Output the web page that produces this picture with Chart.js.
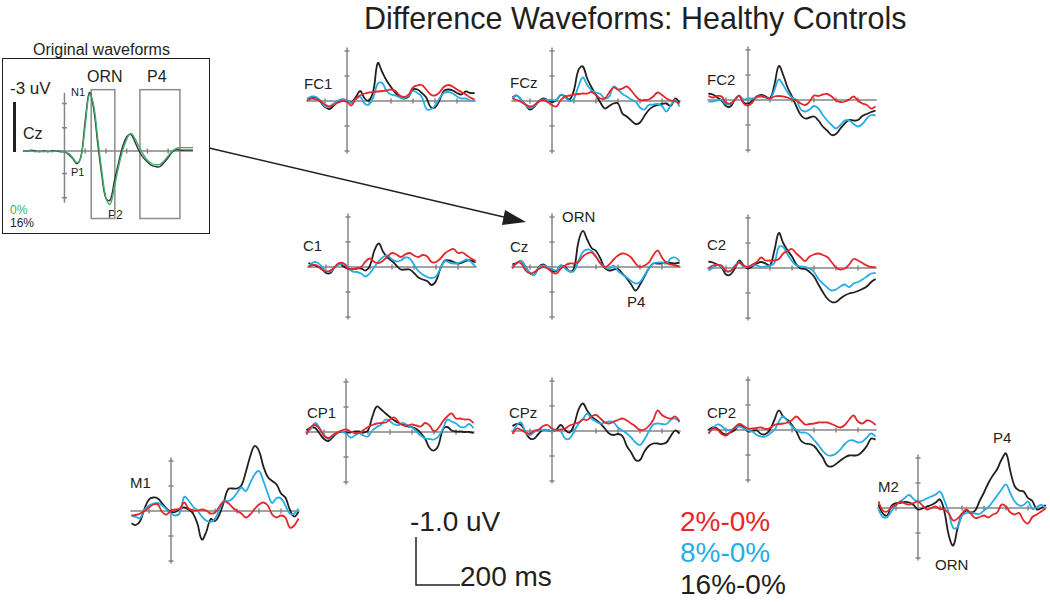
<!DOCTYPE html>
<html lang="en">
<head>
<meta charset="UTF-8">
<title>Difference Waveforms: Healthy Controls</title>
<script src="https://cdn.jsdelivr.net/npm/chart.js"></script>
<style>
    body { margin: 0; background: #fff; }
    #page { position: relative; width: 1050px; height: 602px; overflow: hidden; font-family: "Liberation Sans", Arial, sans-serif; color: #231f20; }
    #page canvas { position: absolute; }
    .t { position: absolute; white-space: nowrap; line-height: 1; }
    #inset { position: absolute; left: 2px; top: 58px; width: 206px; height: 174px; border: 1.5px solid #231f20; }
    svg { position: absolute; left: 0; top: 0; }
</style>
</head>
<body>
<div id="page">
    <div class="t" style="left:364px;top:3px;font-size:30.5px;">Difference Waveforms: Healthy Controls</div>
    <div class="t" style="left:33px;top:42px;font-size:16px;">Original waveforms</div>
    <div id="inset"></div>
    <div class="t" style="left:10px;top:80px;font-size:17px;">-3 uV</div>
    <div style="position:absolute;left:13px;top:102px;width:3px;height:50px;background:#231f20;"></div>
    <div class="t" style="left:23px;top:126px;font-size:16px;">Cz</div>
    <div class="t" style="left:87px;top:69px;font-size:16px;">ORN</div>
    <div class="t" style="left:147px;top:69px;font-size:16px;">P4</div>
    <div class="t" style="left:71px;top:87px;font-size:11px;">N1</div>
    <div class="t" style="left:71px;top:167px;font-size:11px;">P1</div>
    <div class="t" style="left:108px;top:209px;font-size:12px;">P2</div>
    <div class="t" style="left:10px;top:204px;font-size:12px;color:#3cae6a;">0%</div>
    <div class="t" style="left:10px;top:217px;font-size:12px;">16%</div>

    <div id="labels"></div>

    <div class="t" style="left:410px;top:508px;font-size:28px;">-1.0 uV</div>
    <div class="t" style="left:460px;top:563px;font-size:28px;">200 ms</div>
    <div class="t" style="left:680px;top:508px;font-size:28px;color:#e5262b;">2%-0%</div>
    <div class="t" style="left:680px;top:539px;font-size:28px;color:#25aee6;">8%-0%</div>
    <div class="t" style="left:680px;top:571px;font-size:28px;">16%-0%</div>

    <svg width="1050" height="602">
        <line x1="209" y1="148" x2="508" y2="218" stroke="#231f20" stroke-width="1.5"/>
        <polygon points="526,222 505,210 502,225" fill="#231f20"/>
        <polyline points="416,537 416,585 460,585" fill="none" stroke="#231f20" stroke-width="1.5"/>
    </svg>
</div>
<script>
// time points of the difference waveforms (ms)
const times = [-180,-160,-140,-120,-100,-80,-60,-40,-20,0,20,40,60,80,100,120,140,160,180,200,
               220,240,260,280,300,320,340,360,380,400,420,440,460,480,500,520,540,560,580];

// values in uV, negative is drawn upwards
const fc1Red   = [-0.01,-0.05,-0.03,0,0.07,0.11,0.08,0.03,0,0.02,0.09,-0.05,-0.11,-0.15,-0.17,-0.18,-0.19,-0.2,-0.21,-0.23,-0.2,-0.11,-0.08,-0.13,-0.27,-0.31,-0.32,-0.23,-0.13,-0.11,-0.17,-0.28,-0.32,-0.29,-0.23,-0.18,-0.13,-0.07,-0.03];
const fc1Blue  = [-0.05,-0.09,-0.08,-0.01,0.11,0.11,0.05,-0.01,-0.03,-0.01,0.04,-0.03,-0.08,0.05,0.07,-0.08,-0.35,-0.36,-0.2,-0.13,-0.11,-0.07,-0.05,-0.11,-0.2,-0.16,-0.08,0.15,0.17,0.09,-0.05,-0.16,-0.18,-0.15,-0.09,-0.05,-0.05,-0.01,0];
const fc1Black = [-0.03,-0.07,-0.07,0.02,0.12,0.16,0.09,0,-0.03,-0.01,0.03,-0.08,-0.2,-0.05,-0.01,-0.21,-0.76,-0.58,-0.41,-0.28,-0.16,-0.08,-0.05,-0.09,-0.23,-0.23,-0.16,-0.07,0.12,0.13,-0.01,-0.2,-0.23,-0.21,-0.16,-0.13,-0.19,-0.16,-0.16];

const fczRed   = [-0.05,-0.02,0.02,0.07,0.11,0.08,0.01,-0.02,0.02,0.08,0.11,-0.02,-0.09,-0.11,-0.13,-0.14,-0.15,-0.15,-0.18,-0.12,-0.05,-0.05,-0.17,-0.27,-0.23,-0.25,-0.29,-0.21,-0.1,-0.02,-0.02,-0.03,-0.09,-0.17,-0.12,-0.05,-0.01,0.01,0.05];
const fczBlue  = [-0.05,-0.11,-0.02,0.08,0.14,0.1,0.01,-0.03,-0.02,-0.02,-0.02,-0.13,-0.07,0,-0.05,-0.29,-0.47,-0.32,-0.21,-0.17,-0.14,-0.05,-0.09,-0.29,-0.23,-0.14,-0.09,-0.03,0.01,0.13,0.17,0.08,0.07,0.06,0.1,0.21,0.08,-0.02,0.11];
const fczBlack = [-0.07,-0.11,-0.02,0.08,0.17,0.11,0.01,-0.05,-0.02,0.02,-0.02,-0.12,-0.09,-0.03,-0.22,-0.62,-0.69,-0.45,-0.27,-0.12,0.03,0.15,0.1,0.05,0.05,0.25,0.31,0.39,0.46,0.43,0.3,0.18,0.11,0.08,0.06,0.05,0.1,-0.05,0.03];

const fc2Red   = [-0.08,-0.05,-0.08,-0.07,0.05,0.07,0,-0.09,0.07,0.11,0.05,-0.07,-0.08,-0.05,-0.03,-0.07,-0.08,-0.07,-0.05,-0.01,0.01,0.07,0.1,0.03,-0.09,-0.08,-0.11,-0.12,-0.07,0.01,0.04,0.03,-0.01,-0.07,0.01,0.07,0.1,0.17,0.13];
const fc2Blue  = [0.03,0.03,0.01,0,0.08,0.08,0,-0.08,-0.01,-0.03,-0.03,-0.05,-0.07,-0.05,-0.01,-0.2,-0.41,-0.3,-0.15,-0.05,0,0.19,0.23,0.19,0.12,0.17,0.3,0.41,0.5,0.57,0.5,0.41,0.41,0.48,0.53,0.48,0.37,0.3,0.31];
const fc2Black = [-0.13,-0.11,-0.05,0.01,0.12,0.13,0,-0.08,0.05,0.07,0.01,-0.07,-0.1,-0.07,-0.03,-0.3,-0.68,-0.5,-0.25,-0.07,0.13,0.3,0.37,0.35,0.33,0.41,0.53,0.61,0.7,0.68,0.57,0.47,0.4,0.41,0.4,0.32,0.28,0.24,0.21];

const c1Red    = [0,-0.04,-0.03,0.05,0.09,0.07,0,-0.08,-0.07,0.03,0.04,0.03,0,-0.11,-0.17,-0.1,-0.08,-0.13,-0.21,-0.28,-0.25,-0.2,-0.25,-0.28,-0.23,-0.2,-0.24,-0.21,-0.1,-0.1,-0.17,-0.27,-0.33,-0.36,-0.28,-0.29,-0.23,-0.17,-0.12];
const c1Blue   = [0,-0.09,-0.09,-0.01,0.08,0.09,0,-0.05,-0.07,0,0.09,0.1,0.13,0.19,0.12,0,-0.12,-0.2,-0.23,-0.15,-0.11,-0.13,-0.19,-0.17,-0.05,0.08,0.15,0.2,0.22,0.19,0.03,-0.12,-0.09,-0.07,-0.08,-0.11,-0.15,-0.1,0];
const c1Black  = [-0.08,-0.05,-0.01,0.03,0.12,0.12,0,-0.07,-0.01,0.04,0.05,0.03,0.03,0.07,-0.03,-0.33,-0.47,-0.3,-0.19,-0.12,-0.03,0.05,0.05,0.05,0.12,0.21,0.25,0.28,0.36,0.28,0.03,-0.13,-0.13,-0.1,-0.07,-0.09,-0.13,-0.13,-0.09];

const czRed    = [0.03,-0.09,-0.07,0.07,0.13,0.1,0.04,0,0.03,0.1,0.13,0.03,-0.03,-0.07,-0.07,-0.1,-0.21,-0.27,-0.29,-0.2,-0.07,0,-0.05,-0.15,-0.23,-0.27,-0.25,-0.19,-0.07,0,-0.03,-0.09,-0.23,-0.33,-0.19,-0.08,-0.05,-0.03,-0.01];
const czBlue   = [-0.01,-0.07,-0.12,0,0.12,0.15,0.01,-0.03,0,0.04,0.07,-0.03,0.03,0.09,0.08,-0.12,-0.3,-0.35,-0.32,-0.21,-0.08,0,0.03,-0.03,0.08,0.15,0.21,0.28,0.33,0.3,0.17,0.03,-0.07,-0.09,-0.09,-0.07,-0.17,-0.19,-0.12];
const czBlack  = [-0.05,-0.08,-0.12,0,0.12,0.15,0,-0.05,0.01,0.08,0.08,-0.03,0,0.09,0.03,-0.5,-0.72,-0.55,-0.38,-0.32,-0.17,0.02,0.07,0.05,0.04,0.13,0.23,0.35,0.47,0.35,0.19,0.03,-0.07,-0.07,-0.07,-0.09,-0.08,-0.07,-0.09];

const c2Red    = [0.01,-0.05,-0.06,-0.05,0.06,0.06,-0.02,-0.11,-0.05,-0.02,-0.07,-0.12,-0.21,-0.15,-0.15,-0.15,-0.18,-0.29,-0.34,-0.38,-0.29,-0.21,-0.14,-0.23,-0.27,-0.29,-0.26,-0.22,-0.12,-0.01,0.03,0.01,-0.07,-0.18,-0.15,-0.1,-0.05,-0.02,-0.02];
const c2Blue   = [0.05,0,-0.06,-0.02,0.06,0.06,-0.05,-0.11,-0.02,-0.03,-0.05,-0.05,-0.02,-0.03,-0.05,-0.1,-0.42,-0.42,-0.27,-0.14,-0.05,-0.03,-0.02,0.01,0.08,0.22,0.31,0.39,0.45,0.43,0.37,0.33,0.38,0.31,0.28,0.23,0.17,0.11,0.1];
const c2Black  = [-0.13,-0.11,-0.07,-0.01,0.13,0.13,0.01,-0.15,-0.05,0.01,-0.03,-0.09,-0.12,-0.09,-0.05,-0.35,-0.7,-0.5,-0.35,-0.23,-0.07,0.01,0.02,0.08,0.17,0.33,0.48,0.61,0.68,0.68,0.61,0.55,0.51,0.49,0.46,0.42,0.37,0.28,0.22];

const cp1Red   = [0.05,-0.1,-0.14,-0.06,0.07,0.12,0.06,0.01,-0.03,-0.05,-0.01,0.02,0.02,-0.04,-0.1,-0.14,-0.17,-0.18,-0.19,-0.25,-0.29,-0.19,-0.13,-0.13,-0.15,-0.13,-0.11,-0.18,-0.13,-0.01,-0.08,-0.21,-0.31,-0.37,-0.27,-0.27,-0.25,-0.25,-0.18];
const cp1Blue  = [0.02,-0.06,-0.18,-0.08,0.07,0.14,0.07,0.01,-0.01,0.03,0.11,0.07,0.02,0.07,0.09,-0.03,-0.1,-0.15,-0.25,-0.21,-0.15,-0.14,-0.18,-0.13,-0.09,-0.01,0.07,0.13,0.14,0.15,0.09,-0.06,-0.25,-0.21,-0.17,-0.1,-0.1,-0.16,-0.08];
const cp1Black = [-0.03,-0.09,-0.08,0.03,0.14,0.18,0.1,0.02,-0.01,0.01,0.01,-0.01,-0.01,0.01,-0.03,-0.31,-0.51,-0.45,-0.37,-0.3,-0.23,-0.18,-0.15,-0.11,-0.1,-0.06,0.02,0.14,0.32,0.37,0.27,-0.05,-0.1,-0.03,-0.01,-0.01,0,0,0.02];

const cpzRed   = [0.06,-0.05,-0.02,0.03,0.05,-0.01,-0.03,-0.1,-0.12,-0.05,-0.02,-0.03,-0.05,-0.11,-0.14,-0.17,-0.23,-0.22,-0.29,-0.32,-0.25,-0.17,-0.15,-0.19,-0.22,-0.25,-0.21,-0.15,-0.09,-0.02,-0.03,-0.1,-0.22,-0.41,-0.32,-0.27,-0.25,-0.29,-0.19];
const cpzBlue  = [0.03,-0.12,-0.17,0.03,0.08,0.02,-0.02,-0.02,-0.02,0.01,-0.02,0.01,0.15,0.15,0.01,-0.14,-0.23,-0.35,-0.25,-0.19,-0.15,-0.17,-0.19,-0.17,-0.07,-0.01,0.05,0.13,0.23,0.28,0.17,0.01,-0.13,-0.15,-0.14,-0.14,-0.22,-0.25,-0.18];
const cpzBlack = [-0.1,-0.14,-0.12,0.03,0.15,0.15,0.05,-0.02,-0.02,0.01,-0.03,-0.12,-0.02,0.03,-0.12,-0.42,-0.55,-0.41,-0.29,-0.22,-0.15,-0.05,0.05,0.08,0.06,0.1,0.3,0.43,0.58,0.58,0.41,0.3,0.25,0.25,0.26,0.23,0.1,-0.01,0.05];

const cp2Red   = [0.07,-0.03,-0.01,0.08,0.11,0.04,-0.05,-0.12,-0.08,-0.03,-0.03,-0.04,-0.05,-0.02,-0.04,-0.1,-0.12,-0.13,-0.15,-0.2,-0.27,-0.19,-0.11,-0.12,-0.13,-0.15,-0.15,-0.15,-0.12,-0.08,-0.05,-0.1,-0.21,-0.29,-0.17,-0.13,-0.19,-0.17,-0.1];
const cp2Blue  = [0.07,-0.03,-0.11,-0.08,0,0,-0.04,-0.07,-0.03,0.01,0.03,0.1,0.13,0.13,0.07,0,-0.17,-0.27,-0.17,-0.07,0,0.05,0.05,0.1,0.2,0.3,0.42,0.5,0.51,0.47,0.39,0.28,0.21,0.21,0.25,0.23,0.15,0.07,0.13];
const cp2Black = [0,-0.05,-0.03,0.05,0.09,0.05,0,-0.09,-0.05,0.03,0.02,0.01,0.08,0.08,-0.01,-0.2,-0.39,-0.27,-0.2,-0.1,0.03,0.21,0.27,0.28,0.32,0.43,0.55,0.71,0.73,0.68,0.61,0.55,0.51,0.51,0.5,0.43,0.32,0.17,0.19];

const m1Red    = [0.09,0.08,0.05,0,-0.07,-0.13,-0.13,0.02,0.07,-0.01,-0.03,-0.05,-0.17,-0.05,-0.01,-0.01,-0.03,-0.01,0.05,0.03,-0.09,-0.19,-0.16,-0.07,0,0.05,0.13,0.07,-0.04,-0.13,-0.17,-0.11,0.07,0.13,0.09,0.13,0.33,0.29,0.15];
const m1Blue   = [0.09,0.12,0.14,-0.03,-0.11,-0.15,-0.16,-0.11,-0.03,0.05,0.09,0.04,-0.28,-0.21,-0.09,-0.01,0.11,0.19,0.22,0.15,-0.03,-0.2,-0.2,-0.25,-0.36,-0.47,-0.4,-0.56,-0.73,-0.8,-0.6,-0.35,-0.16,-0.26,-0.25,-0.11,0.05,0.05,-0.05];
const m1Black  = [0.25,0.28,0.2,-0.05,-0.23,-0.27,-0.25,-0.15,-0.05,0.02,0.02,-0.04,-0.07,-0.03,0.05,0.25,0.57,0.42,0.16,0.2,0.07,-0.18,-0.44,-0.45,-0.45,-0.51,-0.78,-1.09,-1.3,-1.2,-0.89,-0.68,-0.6,-0.53,-0.35,-0.27,-0.03,0.11,0.02];

const m2Red    = [-0.13,0.05,0.07,-0.02,-0.06,-0.13,-0.09,-0.07,-0.1,-0.13,-0.05,0.03,0,-0.03,0.02,0.03,0.11,0.25,0.21,0.11,0.03,0.11,0.2,0.18,0.15,0.19,0.13,0.09,-0.07,-0.03,0.09,0.13,0.1,0.25,0.31,0.18,0.13,0.07,0.01];
const m2Blue   = [0.03,0.18,0.18,0.06,-0.05,-0.13,-0.2,-0.26,-0.18,-0.13,-0.15,-0.19,-0.23,-0.27,-0.33,-0.15,0.1,0.4,0.38,0.15,0.1,0.1,0.11,0.12,0.05,-0.02,-0.13,-0.25,-0.37,-0.47,-0.29,-0.13,-0.05,-0.06,-0.13,0.02,-0.02,-0.06,-0.01];
const m2Black  = [-0.07,0.11,0.15,-0.05,-0.1,-0.1,-0.12,-0.11,-0.06,0.03,0.01,-0.03,-0.06,-0.11,-0.17,0.07,0.55,0.75,0.4,0.13,0.05,0.09,0.05,-0.14,-0.31,-0.5,-0.65,-0.78,-0.97,-1.09,-0.73,-0.43,-0.35,-0.33,-0.2,-0.14,0.03,0,-0.06];

// original waveforms at Cz (inset)
const insetTimes = [-200,-180,-160,-140,-120,-100,-80,-60,-40,-20,0,20,40,60,80,100,120,140,160,180,200,
                    220,240,260,280,300,320,340,360,380,400,420,440,460,480,500,520,540,560,580,600,620];
const cz0pct  = [0,0,0,0.05,0,0.05,0,0.05,0,0,0.05,0.15,0.4,0.7,0.35,-1.5,-3.4,-2.8,-0.8,1.2,2.8,3.2,2.2,1.0,0,-0.7,-1.05,-0.75,-0.25,0.2,0.55,0.75,0.82,0.8,0.6,0.3,0,-0.15,-0.2,-0.2,-0.2,-0.2];
const cz16pct = [0,0,-0.05,0,0.05,0,0.05,0,0,0.05,0.05,0.2,0.45,0.75,0.3,-1.8,-3.5,-2.6,-0.5,1.45,2.85,2.95,1.85,0.76,-0.24,-0.84,-1.0,-0.55,0,0.4,0.66,0.86,0.94,0.94,0.7,0.4,0.06,-0.08,-0.05,-0.05,-0.05,-0.05];

const RED = '#e5262b', BLUE = '#25aee6', BLACK = '#231f20', GREEN = '#3cae6a', AXIS = '#858585';

// name, axis x, baseline y, label pos, series
const panels = [
    ['FC1', 347, 101, 304, 76, fc1Red, fc1Blue, fc1Black],
    ['FCz', 552, 101, 510, 75, fczRed, fczBlue, fczBlack],
    ['FC2', 748, 100, 707, 72, fc2Red, fc2Blue, fc2Black],
    ['C1', 348, 267, 303, 238, c1Red, c1Blue, c1Black],
    ['Cz', 552, 267, 510, 239, czRed, czBlue, czBlack],
    ['C2', 748, 268, 707, 237, c2Red, c2Blue, c2Black],
    ['CP1', 346, 432, 307, 405, cp1Red, cp1Blue, cp1Black],
    ['CPz', 552, 431, 509, 405, cpzRed, cpzBlue, cpzBlack],
    ['CP2', 748, 430, 707, 405, cp2Red, cp2Blue, cp2Black],
    ['M1', 171, 511, 130, 475, m1Red, m1Blue, m1Black],
    ['M2', 918, 508, 878, 479, m2Red, m2Blue, m2Black]
];

const extraLabels = [
    ['ORN', 562, 209], ['P4', 627, 294], ['P4', 993, 430], ['ORN', 935, 557]
];

const crossAxes = {
    id: 'crossAxes',
    beforeDatasetsDraw(chart, args, opts) {
        const { ctx, scales: { x, y } } = chart;
        const x0 = x.getPixelForValue(0), y0 = y.getPixelForValue(0);
        ctx.save();
        ctx.strokeStyle = AXIS;
        ctx.lineWidth = 1.5;
        ctx.beginPath();
        ctx.moveTo(x.getPixelForValue(opts.xFrom), y0);
        ctx.lineTo(x.getPixelForValue(opts.xTo), y0);
        ctx.moveTo(x0, y.getPixelForValue(opts.yFrom));
        ctx.lineTo(x0, y.getPixelForValue(opts.yTo));
        opts.xTicks.forEach(t => {
            const px = x.getPixelForValue(t);
            ctx.moveTo(px, y0 - 2.5); ctx.lineTo(px, y0 + 2.5);
        });
        opts.yTicks.forEach(v => {
            const py = y.getPixelForValue(v);
            ctx.moveTo(x0 - 2.5, py); ctx.lineTo(x0 + 2.5, py);
        });
        ctx.stroke();
        (opts.boxes || []).forEach(b => {
            ctx.strokeStyle = '#8c8c8c';
            ctx.lineWidth = 1.5;
            const l = x.getPixelForValue(b[0]), r = x.getPixelForValue(b[1]);
            const t = y.getPixelForValue(b[2]), bt = y.getPixelForValue(b[3]);
            ctx.strokeRect(l, t, r - l, bt - t);
        });
        ctx.restore();
    }
};

function makeChart(left, top, w, h, xr, yr, sets, axes) {
    const cv = document.createElement('canvas');
    cv.width = w; cv.height = h;
    cv.style.left = left + 'px'; cv.style.top = top + 'px';
    cv.style.width = w + 'px'; cv.style.height = h + 'px';
    document.getElementById('page').appendChild(cv);
    return new Chart(cv, {
        type: 'line',
        data: {
            datasets: sets.map(s => ({
                data: s.t.map((t, i) => ({ x: t, y: s.v[i] })),
                borderColor: s.c,
                borderWidth: s.w || 1.8,
                pointRadius: 0,
                tension: 0.4,
                fill: false
            }))
        },
        options: {
            responsive: false,
            animation: false,
            layout: { padding: 0 },
            plugins: { legend: { display: false }, tooltip: { enabled: false }, crossAxes: axes },
            scales: {
                x: { type: 'linear', min: xr[0], max: xr[1], display: false },
                y: { min: yr[0], max: yr[1], reverse: true, display: false }
            }
        },
        plugins: [crossAxes]
    });
}

// 0.22 px per ms, 50 px per uV
panels.forEach(p => {
    const [name, ax, by, lx, ly, r, b, k] = p;
    makeChart(ax - 44, by - 75, 176, 150, [-200, 600], [-1.5, 1.5], [
        { t: times, v: r, c: RED },
        { t: times, v: b, c: BLUE },
        { t: times, v: k, c: BLACK }
    ], {
        xFrom: -185, xTo: 585, xTicks: [-100, 100, 200, 300, 400, 500],
        yFrom: -1.07, yTo: 1.05, yTicks: [-1, -0.5, 0.5, 1]
    });
    const d = document.createElement('div');
    d.className = 't';
    d.style.cssText = `left:${lx}px;top:${ly}px;font-size:15px;`;
    d.textContent = name;
    document.getElementById('labels').appendChild(d);
});

extraLabels.forEach(e => {
    const d = document.createElement('div');
    d.className = 't';
    d.style.cssText = `left:${e[1]}px;top:${e[2]}px;font-size:15px;`;
    d.textContent = e[0];
    document.getElementById('labels').appendChild(d);
});

// inset: 0.207 px per ms, 16.7 px per uV
makeChart(22.6, 80.6, 170, 140.3, [-200, 620], [-4.2, 4.2], [
    { t: insetTimes, v: cz0pct, c: GREEN, w: 1.4 },
    { t: insetTimes, v: cz16pct, c: '#333333', w: 1.4 }
], {
    xFrom: -205, xTo: 620, xTicks: [100, 200, 300, 400, 500],
    yFrom: -3.5, yTo: 3.1, yTicks: [-2.85, -1.4, 1.35, 2.8],
    boxes: [[129, 243, -3.68, 4.05], [364, 557, -3.68, 4.05]]
});
</script>
</body>
</html>
